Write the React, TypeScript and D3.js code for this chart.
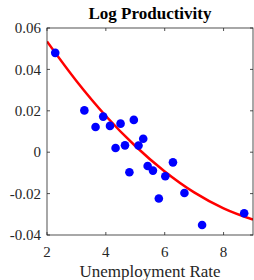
import React from 'react';
import * as d3 from 'd3';

// unemployment rate vs log productivity (scatter)
const unemp = [2.28, 3.27, 3.65, 3.91, 4.14, 4.5, 4.95, 5.27, 4.33, 4.65, 4.8, 5.11, 5.42, 5.6, 6.02, 6.28, 5.8, 6.67, 7.27, 8.7];
const logProd = [0.048, 0.0202, 0.0122, 0.0172, 0.0127, 0.0138, 0.0156, 0.0065, 0.002, 0.0033, -0.0097, 0.0032, -0.0067, -0.0089, -0.0116, -0.0049, -0.0224, -0.0197, -0.0352, -0.0295];

// fitted curve
const fitX = [2, 3, 4, 5, 6, 7, 8, 9];
const fitY = [0.0535, 0.0344, 0.0175, 0.003, -0.0093, -0.0194, -0.0271, -0.0326];

const xTicks = [2, 4, 6, 8];
const yTicks = [-0.04, -0.02, 0, 0.02, 0.04, 0.06];

const App = () => {
  const width = 254;
  const height = 280;
  const left = 47, right = 253, top = 28, bottom = 235;
  const font = '"Liberation Serif", "Times New Roman", serif';

  const x = d3.scaleLinear().domain([2, 9]).range([left, right]);
  const y = d3.scaleLinear().domain([-0.04, 0.06]).range([bottom, top]);

  const line = d3.line<number>()
    .x(d => x(fitX[d]))
    .y(d => y(fitY[d]))
    .curve(d3.curveMonotoneX);

  const axisColor = '#262626';
  const tl = 3;

  return (
    <svg width={width} height={height} style={{ position: 'absolute', left: 0, top: 0 }}>
      <rect width={width} height={height} fill="#fff" />
      <defs>
        <clipPath id="plot">
          <rect x={left} y={top} width={right - left} height={bottom - top} />
        </clipPath>
      </defs>
      <path d={line(d3.range(fitX.length)) ?? ''} fill="none" stroke="#ff0000" strokeWidth={2.5} clipPath="url(#plot)" />
      {unemp.map((u, i) => (
        <circle key={i} cx={x(u)} cy={y(logProd[i])} r={4.3} fill="#0000ff" />
      ))}
      <rect x={left} y={top} width={right - left} height={bottom - top} fill="none" stroke={axisColor} strokeWidth={0.8} />
      {xTicks.map(t => (
        <g key={t}>
          <line x1={x(t)} x2={x(t)} y1={bottom} y2={bottom - tl} stroke={axisColor} strokeWidth={0.8} />
          <line x1={x(t)} x2={x(t)} y1={top} y2={top + tl} stroke={axisColor} strokeWidth={0.8} />
          <text x={x(t)} y={256.5} textAnchor="middle" fontFamily={font} fontSize={15} fill="#262626">{t}</text>
        </g>
      ))}
      {yTicks.map(t => (
        <g key={t}>
          <line x1={left} x2={left + tl} y1={y(t)} y2={y(t)} stroke={axisColor} strokeWidth={0.8} />
          <line x1={right} x2={right - tl} y1={y(t)} y2={y(t)} stroke={axisColor} strokeWidth={0.8} />
          <text x={41} y={y(t)} dy="0.35em" textAnchor="end" fontFamily={font} fontSize={15} fill="#262626">
            {t === 0 ? '0' : d3.format('.2f')(t).replace('−', '-')}
          </text>
        </g>
      ))}
      <text x={(left + right) / 2} y={19} textAnchor="middle" fontFamily={font} fontSize={17} fontWeight="bold" fill="#000">Log Productivity</text>
      <text x={(left + right) / 2} y={276.5} textAnchor="middle" fontFamily={font} fontSize={17} fill="#262626">Unemployment Rate</text>
    </svg>
  );
};

export default App;
